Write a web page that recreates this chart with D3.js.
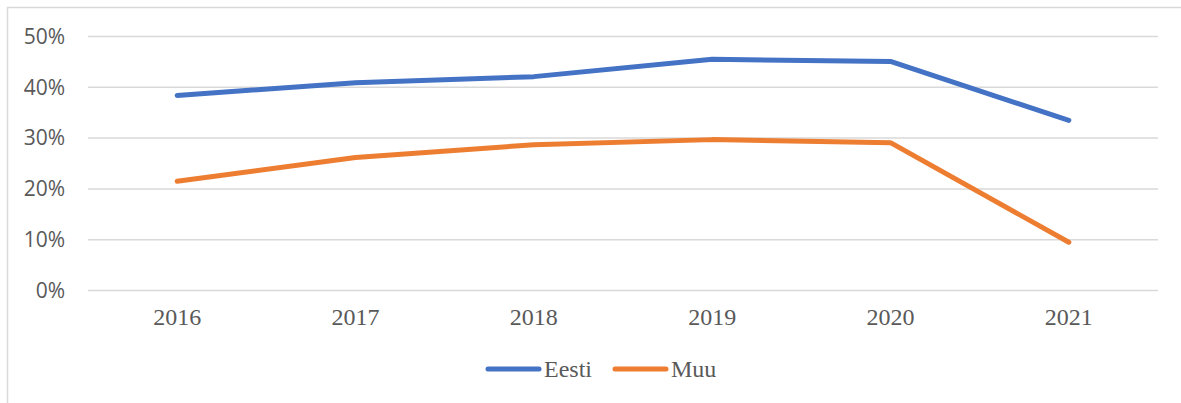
<!DOCTYPE html>
<html>
<head>
<meta charset="utf-8">
<script src="https://cdn.jsdelivr.net/npm/d3@7"></script>
<style>
  body { margin: 0; background: #fff; }
</style>
</head>
<body>
<div id="chart"></div>
<script>
const years = ['2016', '2017', '2018', '2019', '2020', '2021'];
const eesti = [38.4, 40.9, 42.1, 45.5, 45.1, 33.5];
const muu = [21.5, 26.2, 28.7, 29.7, 29.1, 9.5];
const yTicks = [0, 10, 20, 30, 40, 50];
const seriesNames = ['Eesti', 'Muu'];
const colors = ['#4472C4', '#ED7D31'];

const w = 1181;
const h = 403;

const svg = d3.select('#chart')
    .append('svg')
    .attr('width', w)
    .attr('height', h);

// chart frame (only left and top edges fall inside the picture)
svg.append('rect')
    .attr('x', 7.5)
    .attr('y', 7.5)
    .attr('width', w + 20)
    .attr('height', h + 20)
    .attr('fill', 'none')
    .attr('stroke', '#d9d9d9')
    .attr('stroke-width', 1.5);

const xScale = d3.scaleBand()
    .domain(years)
    .range([88, 1158]);

const yScale = d3.scaleLinear()
    .domain([0, 50])
    .range([290.5, 36.5]);

// gridlines
svg.append('g')
    .selectAll('line')
    .data(yTicks)
    .enter()
    .append('line')
    .attr('x1', 88)
    .attr('x2', 1158)
    .attr('y1', (d) => yScale(d))
    .attr('y2', (d) => yScale(d))
    .attr('stroke', '#d9d9d9')
    .attr('stroke-width', 1.5);

const yAxis = d3.axisLeft(yScale)
    .tickValues(yTicks)
    .tickSize(0)
    .tickPadding(0)
    .tickFormat((d) => d + '%');

svg.append('g')
    .attr('transform', 'translate(65,0)')
    .call(yAxis)
    .call((g) => g.select('.domain').remove())
    .selectAll('text')
    .attr('fill', '#595959')
    .style('font-family', '"Open Sans", "Noto Sans", sans-serif')
    .style('font-size', '21px');

const xAxis = d3.axisBottom(xScale)
    .tickSize(0)
    .tickPadding(0);

svg.append('g')
    .attr('transform', 'translate(0,308)')
    .call(xAxis)
    .call((g) => g.select('.domain').remove())
    .selectAll('text')
    .attr('fill', '#595959')
    .style('font-family', '"Liberation Serif", "Times New Roman", serif')
    .style('font-size', '24px');

const line = d3.line()
    .x((d, i) => xScale(years[i]) + xScale.bandwidth() / 2)
    .y((d) => yScale(d));

svg.selectAll('.series')
    .data([eesti, muu])
    .enter()
    .append('path')
    .attr('class', 'series')
    .attr('d', line)
    .attr('fill', 'none')
    .attr('stroke', (d, i) => colors[i])
    .attr('stroke-width', 5)
    .attr('stroke-linecap', 'round')
    .attr('stroke-linejoin', 'round');

// legend
const legendX = [488, 615];
const legend = svg.selectAll('.legend')
    .data(seriesNames)
    .enter()
    .append('g')
    .attr('class', 'legend')
    .attr('transform', (d, i) => 'translate(' + legendX[i] + ',369)');

legend.append('line')
    .attr('x1', 0)
    .attr('x2', 51)
    .attr('stroke', (d, i) => colors[i])
    .attr('stroke-width', 5)
    .attr('stroke-linecap', 'round');

legend.append('text')
    .attr('x', 56)
    .attr('dy', '0.35em')
    .attr('fill', '#595959')
    .style('font-family', '"Liberation Serif", "Times New Roman", serif')
    .style('font-size', '24px')
    .text((d) => d);
</script>
</body>
</html>
